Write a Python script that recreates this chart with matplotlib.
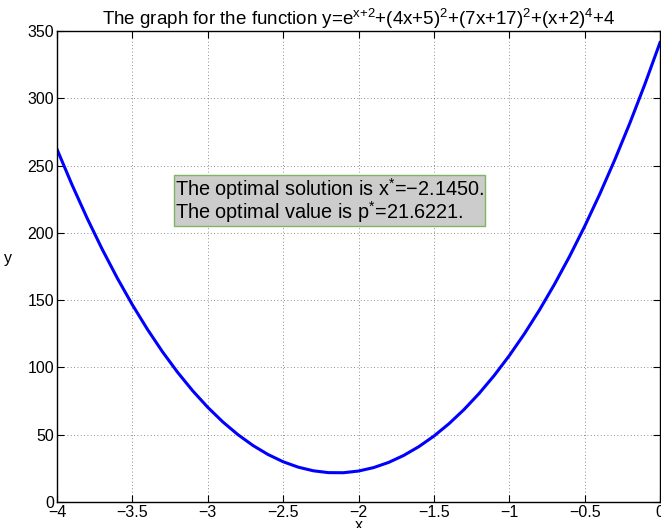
import matplotlib
matplotlib.use("Agg")
import matplotlib.pyplot as plt

# x from -4 to 0, step 0.1, y values
x_vals = [-4.0 + 0.1 * i for i in range(41)]
y_vals = [262.14, 235.63, 210.86, 187.79, 166.36, 146.54, 128.29, 111.58,
          96.38, 82.65, 70.37, 59.51, 50.06, 41.99, 35.28, 29.92, 25.90,
          23.20, 21.82, 21.75, 23.00, 25.56, 29.42, 34.61, 41.12, 48.96,
          58.15, 68.70, 80.64, 93.97, 108.72, 124.92, 142.59, 161.78,
          182.50, 204.79, 228.71, 254.28, 281.55, 310.57, 341.39]

x_ticks = [-4, -3.5, -3, -2.5, -2, -1.5, -1, -0.5, 0]
x_labels = ["\u22124", "\u22123.5", "\u22123", "\u22122.5", "\u22122",
            "\u22121.5", "\u22121", "\u22120.5", "0"]
y_ticks = [0, 50, 100, 150, 200, 250, 300, 350]

plt.rcParams["font.family"] = ["Liberation Sans", "DejaVu Sans"]
plt.rcParams["mathtext.fontset"] = "custom"
plt.rcParams["mathtext.rm"] = "Liberation Sans"
plt.rcParams["mathtext.it"] = "Liberation Sans"

fig = plt.figure(figsize=(6.61, 5.28), dpi=100)
ax = fig.add_axes([57 / 661, 1 - 502 / 528, 603 / 661, 471 / 528])

ax.plot(x_vals, y_vals, color=(0, 0, 1), lw=2.2)
ax.set_xlim(-4, 0)
ax.set_ylim(0, 350)
ax.set_xticks(x_ticks)
ax.set_xticklabels(x_labels)
ax.set_yticks(y_ticks)
ax.tick_params(direction="in", length=5, labelsize=11.5, top=True, right=True, pad=2)
ax.minorticks_off()
ax.grid(True, linestyle=(0, (1, 3)), color="black", lw=0.6, alpha=0.6)
for s in ax.spines.values():
    s.set_linewidth(1.0)

ax.set_title(r"The graph for the function y=e$^{\mathrm{x{+}2}}$+(4x+5)$^{\mathrm{2}}$"
             r"+(7x+17)$^{\mathrm{2}}$+(x+2)$^{\mathrm{4}}$+4",
             fontsize=13.5, pad=4)
ax.set_xlabel("x", fontsize=11.5, labelpad=-1)
ax.set_ylabel("y", fontsize=11.5, rotation=0, labelpad=14)

ax.text(-3.215, 224,
        "The optimal solution is x$^{*}$=\u22122.1450.\nThe optimal value is p$^{*}$=21.6221.",
        fontsize=14.3, ha="left", va="center", linespacing=0.85,
        bbox=dict(facecolor=(0.8, 0.8, 0.8), edgecolor=(0.5, 0.7, 0.4),
                  lw=1, boxstyle="square,pad=0.05"))

fig.savefig("out.png", dpi=100)
